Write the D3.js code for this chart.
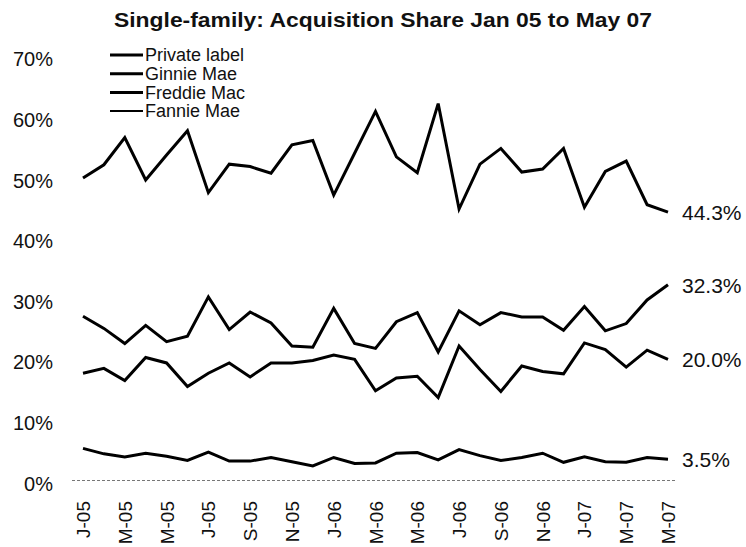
<!DOCTYPE html>
<html>
<head>
<meta charset="utf-8">
<script src="https://cdn.jsdelivr.net/npm/d3@7"></script>
<style>
  body { margin: 0; background: #fff; }
  svg text { font-family: "Liberation Sans", Arial, sans-serif; fill: #111; }
</style>
</head>
<body>
<div id="chart"></div>
<script>
// monthly acquisition share, Jan 05 .. May 07 (29 months)
const months = d3.range(29);
const tickLabels = ["J-05","M-05","M-05","J-05","S-05","N-05","J-06","M-06","M-06","J-06","S-06","N-06","J-07","M-07","M-07"];
const yTicks = [0, 10, 20, 30, 40, 50, 60, 70];

const privateLabel = [49.9,52.1,56.6,49.6,53.7,57.7,47.5,52.2,51.8,50.7,55.4,56.1,47.1,54.0,60.9,53.4,50.8,62.2,44.8,52.2,54.8,50.9,51.4,54.8,45.1,51.0,52.7,45.5,44.3];
const fannieMae = [27.1,25.1,22.6,25.6,22.9,23.8,30.3,24.9,27.8,26.0,22.2,22.0,28.4,22.6,21.8,26.2,27.7,21.2,28.0,25.7,27.7,27.0,27.0,24.8,28.7,24.7,25.9,29.8,32.3];
const freddieMac = [17.7,18.5,16.5,20.3,19.4,15.5,17.7,19.4,17.1,19.4,19.4,19.8,20.7,20.0,14.8,16.9,17.2,13.7,22.2,18.3,14.7,18.9,18.0,17.6,22.7,21.6,18.7,21.5,20.0];
const ginnieMae = [5.3,4.4,3.9,4.5,4.0,3.3,4.7,3.2,3.2,3.8,3.1,2.4,3.8,2.8,2.9,4.5,4.6,3.4,5.1,4.1,3.3,3.8,4.5,3.0,3.9,3.1,3.0,3.8,3.5];

const legendNames = ["Private label", "Ginnie Mae", "Freddie Mac", "Fannie Mae"];
const series = [privateLabel, fannieMae, freddieMac, ginnieMae];

const W = 746, H = 547;
const svg = d3.select("#chart").append("svg")
    .attr("width", W).attr("height", H);

const x = d3.scaleLinear().domain([0, 28]).range([83, 668]);
const y = d3.scaleLinear().domain([0, 70]).range([480.5, 56.3]);

// title
svg.append("text")
    .attr("x", 383).attr("y", 27)
    .attr("text-anchor", "middle")
    .attr("textLength", 538)
    .attr("lengthAdjust", "spacingAndGlyphs")
    .style("font-size", "21px")
    .style("font-weight", "bold")
    .text("Single-family: Acquisition Share Jan 05 to May 07");

// y axis labels (no axis line)
svg.selectAll(".ylab")
    .data(yTicks)
    .enter().append("text")
    .attr("class", "ylab")
    .attr("x", 53)
    .attr("y", d => y(d) + 3)
    .attr("dy", "0.35em")
    .attr("text-anchor", "end")
    .style("font-size", "20px")
    .text(d => d + "%");

// dotted baseline
svg.append("line")
    .attr("x1", 72).attr("x2", 676)
    .attr("y1", y(0)).attr("y2", y(0))
    .attr("stroke", "#777")
    .attr("stroke-width", 1)
    .attr("stroke-dasharray", "3,2");

// x tick labels, every second month, rotated
svg.selectAll(".xlab")
    .data(tickLabels)
    .enter().append("text")
    .attr("class", "xlab")
    .attr("transform", (d, i) => `translate(${x(i * 2) + 7},501) rotate(-90)`)
    .attr("text-anchor", "end")
    .style("font-size", "19px")
    .text(d => d);

// lines
const line = d3.line()
    .x((d, i) => x(months[i]))
    .y(d => y(d));

svg.selectAll(".series")
    .data(series)
    .enter().append("path")
    .attr("class", "series")
    .attr("d", line)
    .attr("fill", "none")
    .attr("stroke", "#000")
    .attr("stroke-width", 3)
    .attr("stroke-linejoin", "miter");

// end value labels
svg.selectAll(".endlab")
    .data(series)
    .enter().append("text")
    .attr("class", "endlab")
    .attr("x", 682)
    .attr("y", d => y(d[28]))
    .attr("dy", "0.38em")
    .style("font-size", "21px")
    .text(d => d[28].toFixed(1) + "%");

// legend
const legend = svg.selectAll(".leg")
    .data(legendNames)
    .enter().append("g")
    .attr("class", "leg")
    .attr("transform", (d, i) => `translate(110,${55 + i * 18.7})`);

legend.append("line")
    .attr("x1", 0).attr("x2", 33)
    .attr("stroke", "#000")
    .attr("stroke-width", (d, i) => i === 3 ? 2 : 3);

legend.append("text")
    .attr("x", 35)
    .attr("dy", "0.35em")
    .style("font-size", "18px")
    .text(d => d);
</script>
</body>
</html>
